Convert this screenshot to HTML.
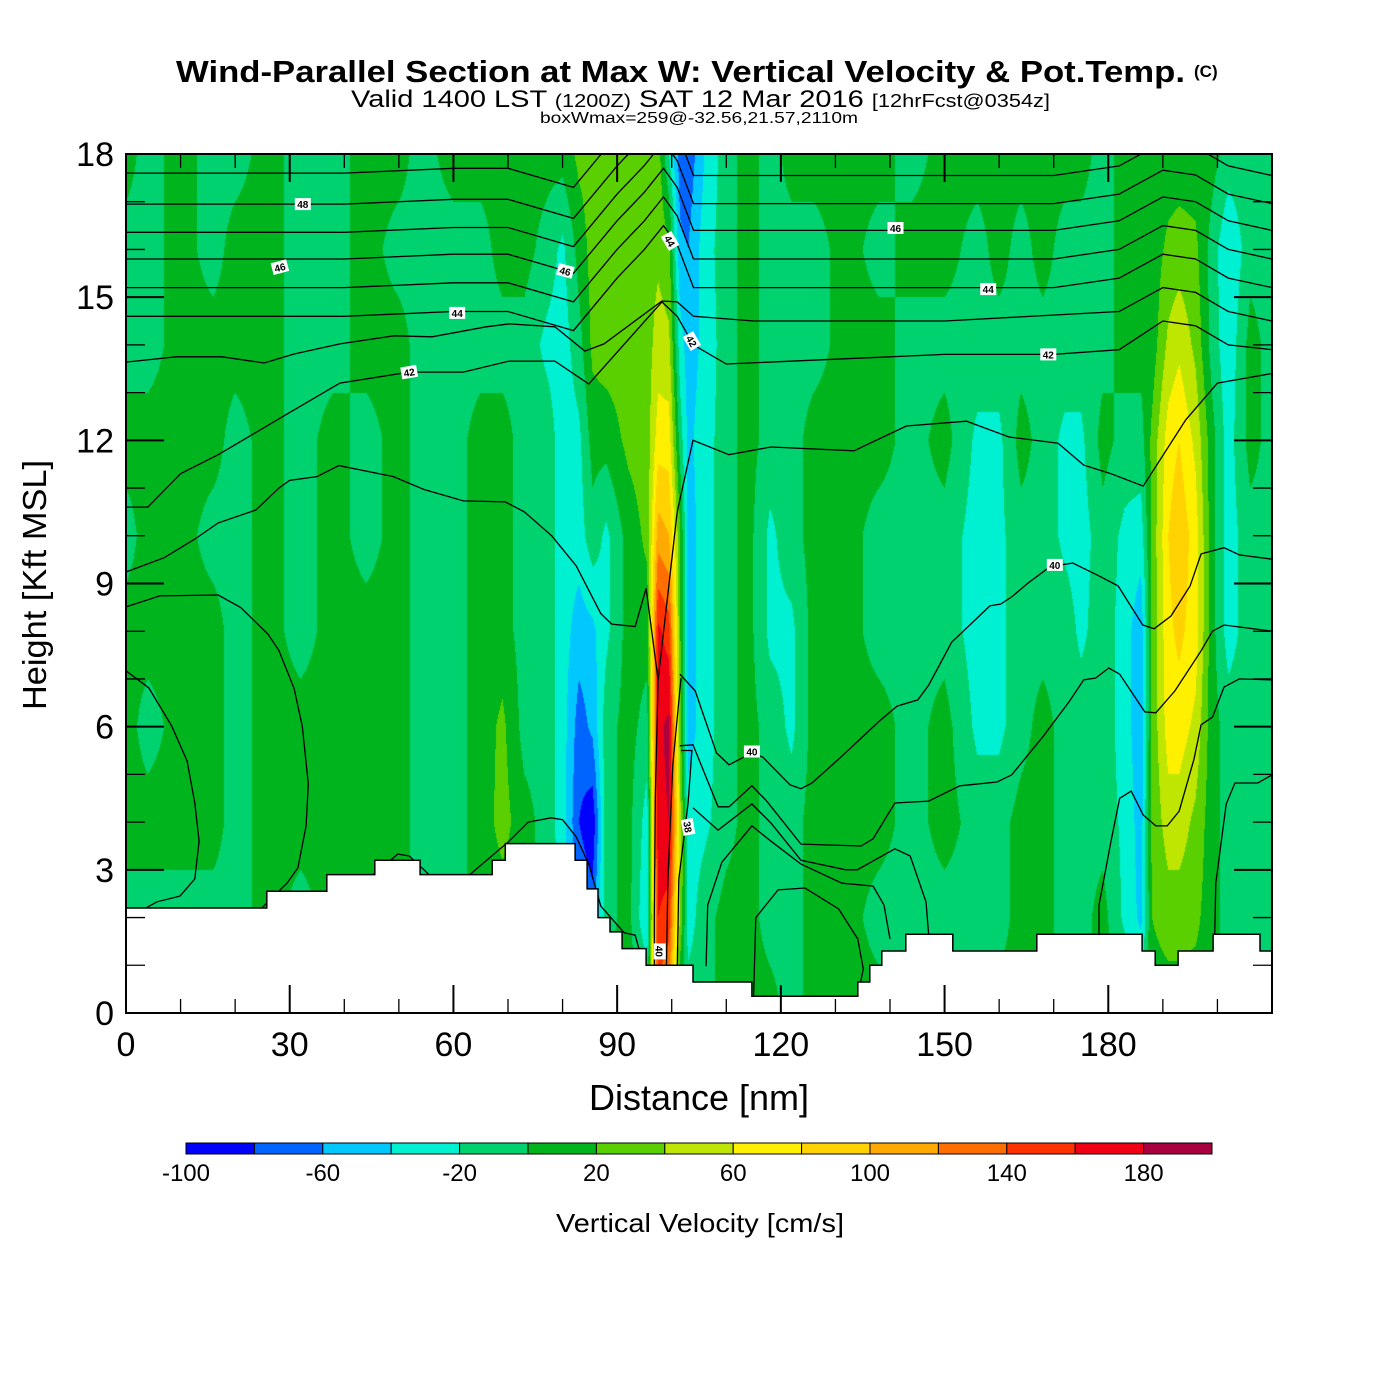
<!DOCTYPE html>
<html><head><meta charset="utf-8"><title>Wind-Parallel Section</title>
<style>
html,body{margin:0;padding:0;background:#fff;}
#wrap{position:relative;width:1400px;height:1400px;overflow:hidden;background:#fff;font-family:"Liberation Sans",Arial,sans-serif;}
#field{position:absolute;left:126px;top:154px;}
#over{position:absolute;left:0;top:0;}
</style></head>
<body>
<div id="wrap">
<canvas id="field" width="1146" height="859"></canvas>
<svg id="over" width="1400" height="1400" xmlns="http://www.w3.org/2000/svg">
<defs><clipPath id="pc"><rect x="126" y="154" width="1146" height="859"/></clipPath></defs>
<g>
<text x="176" y="82" font-size="31" font-weight="bold" textLength="1009" lengthAdjust="spacingAndGlyphs">Wind-Parallel Section at Max W: Vertical Velocity &amp; Pot.Temp.</text>
<text x="1194" y="77" font-size="17" font-weight="bold">(C)</text>
<text x="351" y="107" font-size="24" textLength="699" lengthAdjust="spacingAndGlyphs">Valid 1400 LST <tspan font-size="18">(1200Z)</tspan> SAT 12 Mar 2016 <tspan font-size="18">[12hrFcst@0354z]</tspan></text>
<text x="540" y="123" font-size="16" textLength="318" lengthAdjust="spacingAndGlyphs">boxWmax=259@-32.56,21.57,2110m</text>
</g>
<g id="lines" clip-path="url(#pc)"></g>
<g id="terrain"></g>
<g id="labels"></g>
<rect x="126" y="154" width="1146" height="859" fill="none" stroke="#000" stroke-width="2"/>
<g id="ticks"></g>
<g id="xlab"></g>
<g id="ylab"></g>
<text x="699" y="1110" font-size="36" text-anchor="middle">Distance [nm]</text>
<text x="0" y="0" font-size="33" text-anchor="middle" transform="translate(46,585) rotate(-90)" textLength="250" lengthAdjust="spacingAndGlyphs">Height [Kft MSL]</text>
<g id="cbar"></g>
<text x="700" y="1232" font-size="26" text-anchor="middle" textLength="288" lengthAdjust="spacingAndGlyphs">Vertical Velocity [cm/s]</text>
</svg>
</div>
<script>
// ---- data ----
const wHeights = [0,2,4,6,8,10,12,14,16,18];
const wDist = [0,4,10,16,20,26,32,38,44,50,54,60,65,69,73,77,80,83,85.5,88,92,95.5,97.5,99.5,101.5,103,106,110,114,118,122,126,132,138,144,150,156,160,164,168,172,175,179,183,186,188,191,193,196,199,202,206,210];
const wVals = [
[8,-8,8,8,8,-8,8,-8,-8,8],
[-8,-8,8,-8,8,8,8,-8,-8,-8],
[8,-8,8,8,8,8,8,8,8,8],
[8,-8,8,8,8,-8,8,8,-8,-8],
[8,-8,-8,-8,-8,-8,-8,8,8,-8],
[8,8,8,8,8,8,8,8,8,8],
[8,-8,8,8,-8,-8,-8,-8,-8,-8],
[8,8,8,8,8,8,8,-8,-8,-8],
[8,8,8,8,8,-8,-8,8,8,8],
[8,8,8,8,8,8,8,8,-8,8],
[8,-8,-8,-8,-8,-8,-8,-8,-8,-8],
[8,-8,-8,-8,-8,-8,-8,-8,-8,8],
[8,8,8,8,8,8,8,-8,-8,8],
[8,8,28,25,8,8,8,-8,8,8],
[8,8,8,-8,-8,-8,-8,-8,8,8],
[-8,-8,-8,-8,-8,-8,-8,-25,-8,8],
[-8,-25,-30,-30,-30,-30,-30,-30,-25,8],
[-8,-60,-80,-70,-50,-30,-25,-8,8,25],
[-8,-70,-95,-55,-45,-8,8,25,28,28],
[8,-8,-8,-8,-25,-25,8,30,30,30],
[8,8,8,8,8,8,25,30,30,30],
[8,-40,-30,-8,8,25,30,30,30,25],
[130,160,175,175,165,110,70,50,35,30],
[110,150,180,185,150,100,70,45,25,-20],
[-8,40,50,30,25,25,-8,-30,-55,-70],
[-8,-30,-30,-50,-50,-50,-45,-50,-60,-75],
[-8,-8,-25,-30,-30,-30,-30,-35,-30,-40],
[8,8,-8,-8,-8,-8,-8,-8,-8,-8],
[8,8,8,8,8,8,8,8,8,8],
[8,-8,-8,-8,-25,-25,-8,-8,-8,-8],
[-8,-8,-8,-25,-25,-8,-8,-8,-8,8],
[8,8,8,8,8,8,8,-8,-8,8],
[8,8,8,8,8,8,8,8,8,8],
[8,-8,8,8,-8,-8,8,8,-8,8],
[8,-8,-8,-8,-8,-8,-8,-8,8,-8],
[-8,-8,8,8,-8,-8,8,-8,8,8],
[-8,-8,-8,-25,-30,-30,-25,-8,-8,8],
[8,-8,-8,-25,-25,-25,-25,-8,8,8],
[8,8,8,-8,-8,-8,8,-8,-8,8],
[8,8,8,8,-8,-8,-8,-8,8,8],
[-8,-8,-8,-8,-8,-25,-25,-8,-8,8],
[-8,-8,-8,-8,-25,-30,-25,-8,-8,8],
[8,8,-8,-8,-8,-8,8,-8,-8,-8],
[8,-25,-25,-30,-30,-25,-8,8,8,8],
[-8,-45,-50,-55,-55,-30,-8,8,8,8],
[8,20,25,25,25,25,25,8,8,8],
[8,30,50,70,75,80,70,45,25,8],
[8,30,50,70,85,95,80,55,30,8],
[8,25,35,55,70,70,55,35,25,8],
[8,8,8,8,8,8,8,-8,-8,8],
[-8,-8,-8,-8,-30,-30,-30,-35,-40,-8],
[8,-8,-8,-8,-8,-8,8,8,-8,-8],
[8,-8,-8,-8,-8,-8,-8,-8,-8,-8]
];
const cbLevels = [-100,-80,-60,-40,-20,0,20,40,60,80,100,120,140,160,180,200];
const cbColors = ["#0000ff","#0064ff","#00c8ff","#00f0d2","#00d270","#00b41e","#5ad000","#bee600","#fff000","#ffd200","#ffaa00","#ff6e00","#ff3200","#f00014","#a80040"];
const cbTickLabels = [-100,-60,-20,20,60,100,140,180];
const xTicks = [0,30,60,90,120,150,180];
const yTicks = [0,3,6,9,12,15,18];
const terrainD = [0,25.8,36.8,45.6,53.9,67.1,69.5,82.3,84.5,86.5,88.7,90.9,95.3,103.9,114.7,134.1,136.3,138.5,142.9,151.5,166.9,186.2,188.6,192.8,199.2,207.8];
const terrainH = [2.2,2.55,2.9,3.2,2.9,3.2,3.55,3.2,2.6,2.0,1.7,1.35,1.0,0.65,0.35,0.65,1.0,1.3,1.65,1.3,1.65,1.3,1.0,1.3,1.65,1.3];
const upperD = [0,20,40,60,70,82,90,95,98.5,101,104,115,130,150,170,182,190,196,202,210];
const theta49 = [17.6,17.6,17.6,17.7,17.7,17.3,18.4,19.0,19.5,19.1,18.2,18.2,18.2,18.2,18.2,18.4,18.9,18.8,18.4,18.2];
const theta48 = [16.95,16.95,16.95,17.05,17.05,16.65,17.75,18.35,18.85,18.45,17.55,17.55,17.55,17.55,17.55,17.75,18.25,18.15,17.75,17.55];
const theta47 = [16.36,16.36,16.36,16.46,16.46,16.06,17.16,17.76,18.26,17.86,16.96,16.96,16.96,16.96,16.96,17.16,17.66,17.56,17.16,16.96];
const theta46 = [15.8,15.8,15.8,15.9,15.9,15.5,16.6,17.2,17.7,17.3,16.4,16.4,16.4,16.4,16.4,16.6,17.1,17.0,16.6,16.4];
const theta45 = [15.2,15.2,15.2,15.3,15.3,14.9,16.0,16.6,17.1,16.7,15.8,15.8,15.8,15.8,15.8,16.0,16.5,16.4,16.0,15.8];
const theta44 = [14.6,14.6,14.6,14.7,14.7,14.3,15.4,16.0,16.5,16.1,15.2,15.2,15.2,15.2,15.2,15.4,15.9,15.8,15.4,15.2];
const theta43 = [[0,13.64],[9.2,13.75],[17.6,13.75],[25.3,13.62],[30.8,13.81],[39.2,14.02],[49.1,14.19],[56.1,14.17],[66,14.38],[70.2,14.44],[78.6,14.38],[84.1,13.87],[87.6,14.02],[98.2,14.92],[101,14.9],[104,14.6],[115,14.5],[150,14.5],[182,14.7],[190,15.2],[196,15.1],[202,14.7],[210,14.5]];
const theta42 = [[0,10.6],[4,10.6],[10,11.3],[16.9,11.7],[29.5,12.55],[39.2,13.2],[51.9,13.43],[61.8,13.43],[70.2,13.66],[78.6,13.66],[84.8,13.18],[98.2,14.9],[101,14.6],[104,14.0],[110,13.6],[130,13.7],[150,13.8],[170,13.8],[182,13.9],[190,14.5],[196,14.4],[202,14.0],[210,13.9]];
const theta41 = [[0,9.24],[7,9.54],[12.6,9.93],[16.9,10.27],[23.8,10.54],[28,11.0],[30,11.16],[35,11.24],[39,11.47],[49,11.24],[54.6,10.97],[61.8,10.73],[69.5,10.71],[73,10.5],[78,10.0],[82.5,9.37],[87,8.37],[89,8.15],[93.3,8.1],[95.3,8.9],[97.5,6.98],[101,10.5],[103.9,12.0],[110.5,11.7],[118.2,11.86],[133.4,11.78],[143,12.3],[154,12.4],[161.8,12.07],[170.8,11.94],[175.5,11.48],[180.5,11.3],[186.4,11.04],[194.2,12.43],[200,13.2],[210,13.4]];
const theta40a = [[0,8.51],[6.2,8.74],[16.9,8.76],[21,8.5],[26,7.94],[28,7.6],[30.8,6.8],[32.3,6.01],[33.4,4.8],[33,3.92],[31.5,3.04],[29.5,2.72],[26.6,2.4],[23.8,2.07]];
const theta39a = [[0,7.17],[4.2,6.81],[8.4,6.01],[11.2,5.28],[12.6,4.4],[13.4,3.6],[12.6,2.81],[9.9,2.45],[5.7,2.33],[2,2.1]];
const theta40b = [[44.2,2.8],[49.8,3.33],[51.9,3.29],[56,2.85],[63,2.9],[70.2,3.6],[73.7,4.0],[77.9,4.09],[80,4.05],[82.5,3.69],[84.8,3.12],[87,2.24],[91.3,1.68],[93.3,1.63],[95.3,0.8]];
const theta40c = [[97.5,6.98],[97.0,4.5],[96.8,2.0],[96.8,0.8]];
const theta40d = [[101.5,7.1],[104.3,6.75],[108.2,5.45],[110.5,5.2],[114.7,5.45],[116.7,5.36],[121.7,4.78],[123.7,4.7],[125.7,4.82],[130.6,5.32],[138.1,6.12],[141.3,6.43],[145.1,6.56],[147.1,6.87],[151.3,7.77],[158.3,8.53],[160.3,8.57],[162.3,8.72],[165.2,9.0],[169.3,9.35],[173.5,9.43],[178.3,9.16],[181.8,8.95],[186.3,8.13],[188.4,8.05],[191.5,8.32],[195,8.95],[197,9.62],[201.2,9.75],[204,9.6],[210,9.51]];
const theta39b = [[101.7,7.02],[100.2,5.2],[99.3,2.8],[99,0.8]];
const theta39c = [[101.5,5.6],[103.9,5.62],[108.5,4.32],[110.5,4.32],[114.7,4.76],[117.4,4.44],[123.7,3.54],[134.7,3.5],[136.9,3.65],[140.9,4.4],[147.1,4.44],[152.8,4.76],[159.6,4.84],[162.3,4.99],[168.1,5.8],[172.8,6.52],[175.5,6.98],[177.7,7.02],[180.1,7.23],[182.1,7.1],[186.7,6.31],[188.7,6.29],[192.2,6.75],[197,7.59],[199.1,8.0],[201.2,8.13],[210,8.0]];
const theta38a = [[101.7,5.5],[103.7,5.5],[103,4.4],[101.3,2.8],[101,0.8]];
const theta38b = [[103.9,4.3],[108.5,3.83],[114.7,4.38],[118.2,3.98],[123.7,3.2],[131.9,3.0],[134,3.0],[140.9,3.44],[143.7,3.29],[146.6,2.33],[147.1,1.63]];
const theta38c = [[106.3,0.98],[106.6,2.26],[109.2,3.16],[114.7,3.92],[118.2,3.6],[123.7,3.12],[131.2,2.72],[136.9,2.66],[138.9,2.26],[140,1.55]];
const theta37a = [[115,0.36],[115.4,2.0],[119.5,2.58],[124.4,2.62],[130.6,2.18],[134.1,1.55],[135.1,0.92],[134.1,0.36]];
const theta38d = [[178.3,1.63],[178.3,2.26],[180.5,3.6],[182.1,4.5],[184.2,4.65],[186.4,4.15],[188.7,3.92],[190.8,3.92],[193,4.23],[195.7,5.32],[197,6.04],[199.1,6.2],[201.2,6.83],[204,7.0],[210,6.98]];
const theta37b = [[199.5,1.63],[199.7,2.72],[201.6,4.38],[203.2,4.82],[207.4,4.82],[210,4.99]];
const labelText = ["48","46","46","46","44","44","44","42","42","42","40","40","40","38"];
const labelD = [32.4,28.2,80.5,141,60.7,99.7,158,51.9,103.7,169,114.7,170.2,97.8,103];
const labelH = [16.95,15.63,15.55,16.45,14.67,16.18,15.17,13.43,14.08,13.8,5.48,9.39,1.29,3.9];
const labelRot = [0,-15,15,0,0,60,0,-10,60,0,0,0,90,80];

// ---- axes ----
const X0=126, X1=1272, Y0=1013, Y1=154, DMAX=210, HMAX=18;
function xs(d){return X0+d*(X1-X0)/DMAX;}
function ys(h){return Y0-h*(Y0-Y1)/HMAX;}
const NS="http://www.w3.org/2000/svg";
function mk(tag,attrs,parent){const e=document.createElementNS(NS,tag);for(const k in attrs)e.setAttribute(k,attrs[k]);parent.appendChild(e);return e;}

// ---- field ----
(function(){
  const cv=document.getElementById('field');const ctx=cv.getContext('2d');
  const W=cv.width,H=cv.height;const img=ctx.createImageData(W,H);
  const rgb=cbColors.map(c=>[parseInt(c.substr(1,2),16),parseInt(c.substr(3,2),16),parseInt(c.substr(5,2),16)]);
  const ci=[],cw=[];
  for(let px=0;px<W;px++){const d=(px+0.5)*DMAX/W;let i=0;while(i<wDist.length-2&&wDist[i+1]<d)i++;ci.push(i);cw.push(Math.min(1,Math.max(0,(d-wDist[i])/(wDist[i+1]-wDist[i]))));}
  const ri=[],rw=[];
  for(let py=0;py<H;py++){const h=HMAX-(py+0.5)*HMAX/H;let j=0;while(j<wHeights.length-2&&wHeights[j+1]<h)j++;ri.push(j);rw.push(Math.min(1,Math.max(0,(h-wHeights[j])/(wHeights[j+1]-wHeights[j]))));}
  for(let py=0;py<H;py++){const j=ri[py],b=rw[py];
    for(let px=0;px<W;px++){const i=ci[px],a=cw[px];
      const v=(1-a)*((1-b)*wVals[i][j]+b*wVals[i][j+1])+a*((1-b)*wVals[i+1][j]+b*wVals[i+1][j+1]);
      let k=Math.floor((v-cbLevels[0])/20);if(k<0)k=0;if(k>14)k=14;
      const o=(py*W+px)*4;img.data[o]=rgb[k][0];img.data[o+1]=rgb[k][1];img.data[o+2]=rgb[k][2];img.data[o+3]=255;}}
  ctx.putImageData(img,0,0);
})();

// ---- contours ----
const lg=document.getElementById('lines');
const upperLines=[theta49,theta48,theta47,theta46,theta45,theta44];
upperLines.forEach(arr=>{
  const p=mk('polyline',{points:arr.map((h,i)=>xs(upperD[i]).toFixed(1)+','+ys(h).toFixed(1)).join(' '),fill:'none',stroke:'#000','stroke-width':'1.3'},lg);
  
  
});
const pairLines=[theta43,theta42,theta41,theta40a,theta39a,theta40b,theta40c,theta40d,theta39b,theta39c,theta38a,theta38b,theta38c,theta37a,theta38d,theta37b];
pairLines.forEach(arr=>{
  const p=mk('polyline',{points:arr.map(q=>xs(q[0]).toFixed(1)+','+ys(q[1]).toFixed(1)).join(' '),fill:'none',stroke:'#000','stroke-width':'1.3'},lg);
  
  
});

// ---- terrain ----
(function(){
  const g=document.getElementById('terrain');
  let pts=[[xs(0),ys(0)]];
  for(let i=0;i<terrainD.length;i++){const x0=xs(terrainD[i]);const x1=i<terrainD.length-1?xs(terrainD[i+1]):xs(DMAX);pts.push([x0,ys(terrainH[i])]);pts.push([x1,ys(terrainH[i])]);}
  pts.push([xs(DMAX),ys(0)]);
  const p=mk('polygon',{points:pts.map(q=>q[0].toFixed(1)+','+q[1].toFixed(1)).join(' '),fill:'#fff',stroke:'#000','stroke-width':'1.5'},g);
  
  
})();

// ---- labels ----
(function(){
  const g=document.getElementById('labels');
  labelText.forEach((t,i)=>{
    const x=xs(labelD[i]),y=ys(labelH[i]);
    const gg=mk('g',{transform:'translate('+x.toFixed(1)+','+y.toFixed(1)+') rotate('+labelRot[i]+')'},g);
    
    
    mk('rect',{x:-8,y:-6,width:16,height:12,fill:'#fff'},gg);
    const tx=mk('text',{x:0,y:4,'font-size':'10','font-weight':'bold','text-anchor':'middle'},gg);
    tx.textContent=t;
  });
})();

// ---- ticks ----
(function(){
  const g=document.getElementById('ticks');
  for(let d=0;d<=DMAX;d+=10){const x=xs(d);const major=(d%30===0);const L=major?28:14;
    let t=mk('line',{x1:x,y1:Y0,x2:x,y2:Y0-L,stroke:'#000','stroke-width':major?2:1.3},g);
    
    t=mk('line',{x1:x,y1:Y1,x2:x,y2:Y1+L,stroke:'#000','stroke-width':major?2:1.3},g);
    }
  for(let h=0;h<=HMAX;h+=1){const y=ys(h);const major=(h%3===0);const L=major?38:19;
    let t=mk('line',{x1:X0,y1:y,x2:X0+L,y2:y,stroke:'#000','stroke-width':major?2:1.3},g);
    
    t=mk('line',{x1:X1,y1:y,x2:X1-L,y2:y,stroke:'#000','stroke-width':major?2:1.3},g);
    }
  const xl=document.getElementById('xlab');
  xTicks.forEach(v=>{const t=mk('text',{x:xs(v),y:1056,'font-size':'34','text-anchor':'middle'},xl);t.textContent=v;
    });
  const yl=document.getElementById('ylab');
  yTicks.forEach(v=>{const t=mk('text',{x:114,y:ys(v)+12,'font-size':'34','text-anchor':'end'},yl);t.textContent=v;
    });
})();

// ---- colorbar ----
(function(){
  const g=document.getElementById('cbar');const CX0=186,CX1=1212,CY=1143,CH=11;
  const cx=v=>CX0+(v-cbLevels[0])*(CX1-CX0)/(cbLevels[cbLevels.length-1]-cbLevels[0]);
  cbColors.forEach((c,i)=>{const r=mk('rect',{x:cx(cbLevels[i]),y:CY,width:cx(cbLevels[i+1])-cx(cbLevels[i]),height:CH,fill:c,stroke:'#000','stroke-width':'1'},g);
    });
  cbTickLabels.forEach(v=>{const t=mk('text',{x:cx(v),y:1181,'font-size':'24','text-anchor':'middle'},g);t.textContent=v;
    });
})();
</script>
</body></html>
